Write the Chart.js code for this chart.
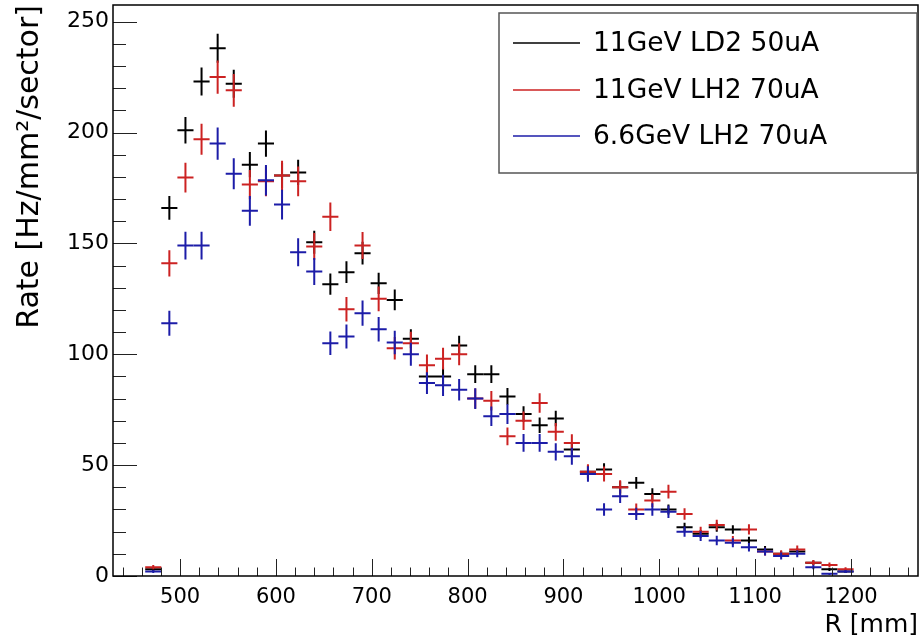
<!DOCTYPE html>
<html><head><meta charset="utf-8">
<script src="https://cdn.jsdelivr.net/npm/chart.js@4.4.0/dist/chart.umd.min.js"></script>
<style>html,body{margin:0;padding:0;background:#fff;} #wrap{width:922px;height:643px;position:relative;}</style>
</head><body><div id="wrap"><canvas id="c" width="922" height="643"></canvas></div>
<script>
// ---- data ----
const radius = [472, 488.8, 505.6, 522.4, 539.2, 556, 572.8, 589.6, 606.4, 623.2, 640, 656.8, 673.6, 690.4, 707.2, 724, 740.8, 757.6, 774.4, 791.2, 808, 824.8, 841.6, 858.4, 875.2, 892, 908.8, 925.6, 942.4, 959.2, 976, 992.8, 1009.6, 1026.4, 1043.2, 1060, 1076.8, 1093.6, 1110.4, 1127.2, 1144, 1160.8, 1177.6, 1194.4];
const binHalfWidth = 8.4;
const seriesLabels = ['11GeV LD2 50uA', '11GeV LH2 70uA', '6.6GeV LH2 70uA'];
const ld2_11 = [3, 166, 201, 223, 238, 222, 185.5, 195, 180.6, 182, 150.5, 131.6, 137, 145.6, 132, 124.5, 107, 90, 90, 104, 91, 91, 81, 73, 68, 71, 57, 47, 48, 40, 42, 37, 30, 22, 19, 22, 21, 16, 12, 10, 11, 6, 3, 2];
const ld2_11Err = [0.7, 5.4, 6.0, 6.3, 6.5, 6.3, 5.7, 5.9, 5.6, 5.7, 5.2, 4.8, 4.9, 5.1, 4.8, 4.7, 4.3, 4.0, 4.0, 4.3, 4.0, 4.0, 3.8, 3.6, 3.5, 3.5, 3.2, 2.9, 2.9, 2.7, 2.7, 2.6, 2.3, 2.0, 1.8, 2.0, 1.9, 1.7, 1.5, 1.3, 1.4, 1.0, 0.7, 0.6];
const lh2_11 = [4, 141, 179.7, 197, 225, 219, 176.5, 178, 180.6, 178, 148.6, 162, 120.3, 149, 125, 102.7, 105, 95, 98, 100, 80, 79, 63, 70, 78, 65, 60, 47, 46, 40, 30, 34, 38, 28, 20, 23, 16, 21, 11, 10, 12, 6, 5, 3];
const lh2_11Err = [1.0, 5.9, 6.7, 7.0, 7.5, 7.4, 6.6, 6.7, 6.7, 6.7, 6.1, 6.4, 5.5, 6.1, 5.6, 5.1, 5.1, 4.9, 4.9, 5.0, 4.5, 4.4, 4.0, 4.2, 4.4, 4.0, 3.9, 3.4, 3.4, 3.2, 2.7, 2.9, 3.1, 2.6, 2.2, 2.4, 2.0, 2.3, 1.7, 1.6, 1.7, 1.2, 1.1, 0.9];
const lh2_66 = [2, 114, 149, 149, 195, 181.4, 164.7, 178.5, 167.5, 146, 137.3, 105, 108, 118.5, 111.3, 105.3, 100, 87, 86, 84, 80, 72, 73, 60, 60, 56, 54, 46, 30, 36, 28, 30, 29, 20, 18, 16, 15, 13, 11, 9, 10, 4, 1, 2];
const lh2_66Err = [0.7, 5.6, 6.3, 6.3, 7.3, 7.0, 6.7, 6.9, 6.7, 6.3, 6.1, 5.3, 5.4, 5.7, 5.5, 5.3, 5.2, 4.9, 4.8, 4.8, 4.7, 4.4, 4.4, 4.0, 4.0, 3.9, 3.8, 3.5, 2.8, 3.1, 2.8, 2.8, 2.8, 2.3, 2.2, 2.1, 2.0, 1.9, 1.7, 1.6, 1.6, 1.0, 0.5, 0.7];
const xTickLabels = [500, 600, 700, 800, 900, 1000, 1100, 1200];
const yTickLabels = [0, 50, 100, 150, 200, 250];
const xTitle = 'R [mm]';
const yTitle = 'Rate [Hz/mm\u00B2/sector]';

const FONT = "'DejaVu Sans', sans-serif";
const colors = ['#000000', '#cc2222', '#1c1ca8'];

function mk(vals, errs) {
  return radius.map((r, i) => ({ x: r, y: vals[i], e: errs[i] }));
}

const rootPlugin = {
  id: 'rootStyle',
  afterDatasetsDraw(chart) {
    const ctx = chart.ctx, xs = chart.scales.x, ys = chart.scales.y;
    ctx.save();
    chart.data.datasets.forEach(ds => {
      ctx.strokeStyle = ds.borderColor;
      ctx.lineWidth = 2;
      ds.data.forEach(p => {
        const px = xs.getPixelForValue(p.x);
        const py = ys.getPixelForValue(p.y);
        const x0 = xs.getPixelForValue(p.x - binHalfWidth), x1 = xs.getPixelForValue(p.x + binHalfWidth);
        const y0 = ys.getPixelForValue(p.y - p.e), y1 = ys.getPixelForValue(p.y + p.e);
        ctx.beginPath();
        ctx.moveTo(x0, py); ctx.lineTo(x1, py);
        ctx.moveTo(px, y0); ctx.lineTo(px, y1);
        ctx.stroke();
      });
    });
    ctx.restore();
  },
  afterDraw(chart) {
    const ctx = chart.ctx, xs = chart.scales.x, ys = chart.scales.y, a = chart.chartArea;
    ctx.save();
    // ticks
    ctx.strokeStyle = '#222';
    ctx.lineWidth = 1;
    ctx.beginPath();
    for (let v = 440; v <= 1260; v += 20) {
      const px = Math.round(xs.getPixelForValue(v)) + 0.5;
      const len = (v % 100 === 0) ? 17 : 8.5;
      ctx.moveTo(px, a.bottom); ctx.lineTo(px, a.bottom - len);
    }
    for (let v = 0; v <= 250; v += 10) {
      const py = Math.round(ys.getPixelForValue(v)) + 0.5;
      const len = (v % 50 === 0) ? 24 : 13;
      ctx.moveTo(a.left, py); ctx.lineTo(a.left + len, py);
    }
    ctx.stroke();
    // frame
    ctx.strokeStyle = '#000';
    ctx.lineWidth = 1.5;
    ctx.strokeRect(a.left, a.top, a.right - a.left, a.bottom - a.top);
    // legend
    const lx0 = 499, ly0 = 13, lx1 = 917, ly1 = 173;
    ctx.fillStyle = '#fff';
    ctx.fillRect(lx0, ly0, lx1 - lx0, ly1 - ly0);
    ctx.strokeStyle = '#555';
    ctx.lineWidth = 1.5;
    ctx.strokeRect(lx0, ly0, lx1 - lx0, ly1 - ly0);
    const rows = [43, 90, 136];
    ctx.font = "26.5px " + FONT;
    ctx.textBaseline = 'middle';
    ctx.textAlign = 'left';
    chart.data.datasets.forEach((ds, i) => {
      ctx.strokeStyle = ds.borderColor;
      ctx.lineWidth = 1.5;
      ctx.beginPath();
      ctx.moveTo(513, rows[i]); ctx.lineTo(580, rows[i]);
      ctx.stroke();
      ctx.fillStyle = '#000';
      ctx.fillText(ds.label, 593, rows[i] + 1);
    });
    ctx.restore();
  }
};

new Chart(document.getElementById('c'), {
  type: 'scatter',
  data: {
    datasets: [
      { label: seriesLabels[0], data: mk(ld2_11, ld2_11Err), borderColor: colors[0], backgroundColor: colors[0], pointRadius: 0, showLine: false },
      { label: seriesLabels[1], data: mk(lh2_11, lh2_11Err), borderColor: colors[1], backgroundColor: colors[1], pointRadius: 0, showLine: false },
      { label: seriesLabels[2], data: mk(lh2_66, lh2_66Err), borderColor: colors[2], backgroundColor: colors[2], pointRadius: 0, showLine: false }
    ]
  },
  options: {
    responsive: false,
    animation: false,
    events: [],
    layout: { padding: { top: 5, right: 4, left: 0, bottom: 0 } },
    plugins: { legend: { display: false }, tooltip: { enabled: false } },
    scales: {
      x: {
        type: 'linear', min: 430, max: 1270,
        grid: { display: false, drawTicks: false },
        border: { display: false },
        afterBuildTicks(s) { s.ticks = xTickLabels.map(v => ({ value: v })); },
        afterFit(s) { s.height = 67; s.paddingLeft = 0; s.paddingRight = 0; },
        ticks: { color: '#000', font: { family: FONT, size: 21 }, padding: 9, maxRotation: 0, autoSkip: false, callback: v => String(v) },
        title: { display: true, text: xTitle, align: 'end', color: '#000', font: { family: FONT, size: 25 }, padding: { top: 0, bottom: 3 } }
      },
      y: {
        type: 'linear', min: 0, max: 257.5,
        grid: { display: false, drawTicks: false },
        border: { display: false },
        afterBuildTicks(s) { s.ticks = yTickLabels.map(v => ({ value: v })); },
        afterFit(s) { s.width = 113; s.paddingTop = 0; s.paddingBottom = 0; },
        ticks: { color: '#000', font: { family: FONT, size: 22 }, padding: 4, callback: v => String(v) },
        title: { display: true, text: yTitle, align: 'end', color: '#000', font: { family: FONT, size: 30 }, padding: { top: 12, bottom: 0 } }
      }
    }
  },
  plugins: [rootPlugin]
});
</script></body></html>
